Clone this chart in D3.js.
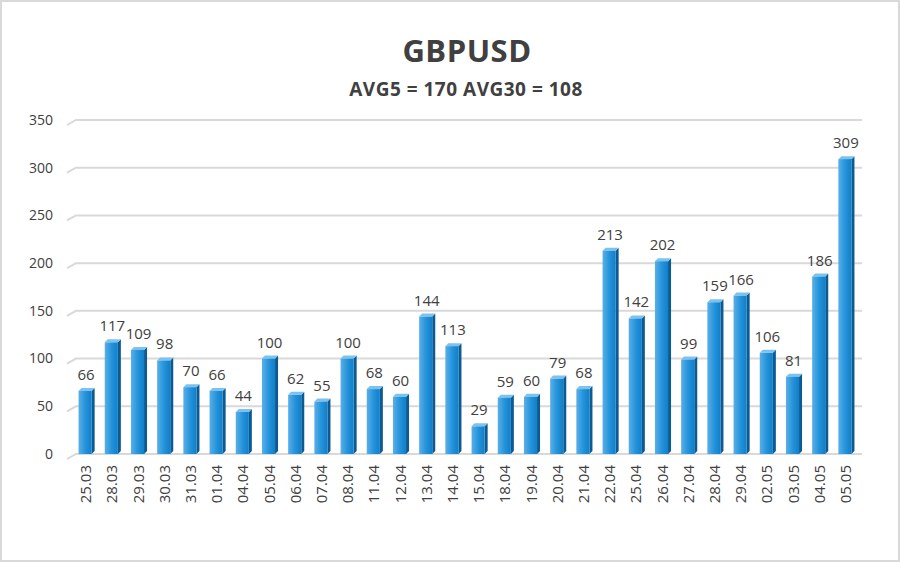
<!DOCTYPE html>
<html>
<head>
<meta charset="utf-8">
<script src="https://cdn.jsdelivr.net/npm/d3@7"></script>
<style>
  body { margin: 0; background: #fff; }
  svg { display: block; font-family: "Open Sans", "DejaVu Sans", sans-serif; }
</style>
</head>
<body>
<svg id="chart" width="900" height="562"></svg>
<script>
// GBPUSD daily volatility
var dates = ["25.03","28.03","29.03","30.03","31.03","01.04","04.04","05.04","06.04","07.04",
             "08.04","11.04","12.04","13.04","14.04","15.04","18.04","19.04","20.04","21.04",
             "22.04","25.04","26.04","27.04","28.04","29.04","02.05","03.05","04.05","05.05"];
var values = [66,117,109,98,70,66,44,100,62,55,
              100,68,60,144,113,29,59,60,79,68,
              213,142,202,99,159,166,106,81,186,309];
var yTicks = [0,50,100,150,200,250,300,350];
var title = "GBPUSD";
var subtitle = "AVG5 = 170 AVG30 = 108";

var svg = d3.select("#chart");

// outer frame
svg.append("rect")
    .attr("x", 1).attr("y", 1)
    .attr("width", 898).attr("height", 560)
    .attr("fill", "#fff")
    .attr("stroke", "#d9d9d9")
    .attr("stroke-width", 2);

var x = d3.scaleBand()
    .domain(dates)
    .range([72, 858])
    .paddingInner(0.5)
    .paddingOuter(0.25);

var y = d3.scaleLinear()
    .domain([0, 350])
    .range([454, 120]);

var defs = svg.append("defs");
var grad = defs.append("linearGradient")
    .attr("id", "front")
    .attr("x1", "0%").attr("x2", "100%")
    .attr("y1", "0%").attr("y2", "0%");
grad.append("stop").attr("offset", "0%").attr("stop-color", "#5aafe8");
grad.append("stop").attr("offset", "55%").attr("stop-color", "#2292da");
grad.append("stop").attr("offset", "100%").attr("stop-color", "#127fc8");

// grid lines with little perspective tick on the left
var grid = svg.append("g");
grid.selectAll("path")
    .data(yTicks)
    .enter()
    .append("path")
    .attr("d", function(d) {
        var yy = y(d);
        return "M67," + (yy + 5) + " L76," + yy + " L862," + yy;
    })
    .attr("fill", "none")
    .attr("stroke", "#d9d9d9")
    .attr("stroke-width", 2);

// y tick labels
svg.append("g").selectAll("text")
    .data(yTicks)
    .enter()
    .append("text")
    .attr("x", 53)
    .attr("y", function(d) { return y(d); })
    .attr("dy", "0.35em")
    .attr("text-anchor", "end")
    .attr("font-size", "14px")
    .attr("fill", "#404040")
    .text(function(d) { return d; });

var depth = 3;
var bars = svg.append("g").selectAll("g")
    .data(values)
    .enter()
    .append("g");

// side face
bars.append("path")
    .attr("d", function(d, i) {
        var x1 = x(dates[i]) + x.bandwidth();
        var yt = y(d), yb = y(0);
        return "M" + x1 + "," + yt + " L" + (x1 + depth) + "," + (yt - depth) +
               " L" + (x1 + depth) + "," + (yb - depth) + " L" + x1 + "," + yb + "Z";
    })
    .attr("fill", "#0b5a92");

// top face
bars.append("path")
    .attr("d", function(d, i) {
        var x0 = x(dates[i]), x1 = x0 + x.bandwidth();
        var yt = y(d);
        return "M" + x0 + "," + yt + " L" + (x0 + depth) + "," + (yt - depth) +
               " L" + (x1 + depth) + "," + (yt - depth) + " L" + x1 + "," + yt + "Z";
    })
    .attr("fill", "#7cc2ef");

// front face
bars.append("rect")
    .attr("x", function(d, i) { return x(dates[i]); })
    .attr("y", function(d) { return y(d); })
    .attr("width", x.bandwidth())
    .attr("height", function(d) { return y(0) - y(d); })
    .attr("fill", "url(#front)");

// value labels
bars.append("text")
    .attr("x", function(d, i) { return x(dates[i]) + x.bandwidth() / 2 + 1; })
    .attr("y", function(d) { return y(d) - 11; })
    .attr("text-anchor", "middle")
    .attr("font-size", "15px")
    .attr("fill", "#404040")
    .text(function(d) { return d; });

// x labels, rotated
svg.append("g").selectAll("text")
    .data(dates)
    .enter()
    .append("text")
    .attr("transform", function(d) {
        return "translate(" + (x(d) + x.bandwidth() / 2 + 6) + ",465) rotate(-90)";
    })
    .attr("text-anchor", "end")
    .attr("font-size", "15px")
    .attr("fill", "#404040")
    .text(function(d) { return d; });

svg.append("text")
    .attr("x", 467).attr("y", 62)
    .attr("text-anchor", "middle")
    .attr("font-size", "31px")
    .attr("font-weight", "bold")
    .attr("letter-spacing", "0.5px")
    .attr("fill", "#404040")
    .text(title);

svg.append("text")
    .attr("x", 466).attr("y", 96)
    .attr("text-anchor", "middle")
    .attr("font-size", "19px")
    .attr("font-weight", "bold")
    .attr("letter-spacing", "0.5px")
    .attr("fill", "#404040")
    .text(subtitle);
</script>
</body>
</html>
